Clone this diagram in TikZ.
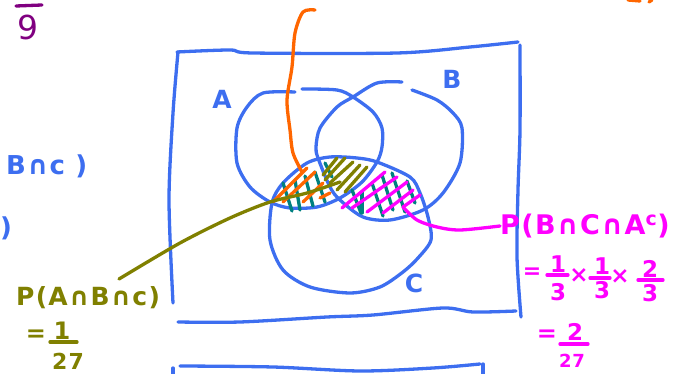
\documentclass[tikz,border=0pt]{standalone}
\usepackage{fontspec}
\setmainfont{DejaVu Sans}
\newfontfamily\handfont[LetterSpace=5]{DejaVu Sans}
\definecolor{penblue}{HTML}{3D6EF0}
\definecolor{penorange}{HTML}{FF6600}
\definecolor{penolive}{HTML}{808000}
\definecolor{penmagenta}{HTML}{FF00FF}
\definecolor{penteal}{HTML}{008080}
\definecolor{penpurple}{HTML}{800080}
\tikzset{
  pen/.style={line width=3.3pt,line cap=round,line join=round},
  word/.style={inner sep=0pt,font=\handfont\bfseries\fontsize{#1}{#1}\selectfont},
  word/.default=22
}
\begin{document}
\begin{tikzpicture}[x=1pt,y=-1pt]
  \useasboundingbox (0,0) rectangle (678,374);

  % frame
  \draw[pen,penblue] plot[smooth] coordinates {(177,52) (230,50) (253,53) (397,53) (470,47) (518,42)};
  \draw[pen,penblue] plot[smooth] coordinates {(178,52) (173,113) (169,200) (173,303)};
  \draw[pen,penblue] plot[smooth] coordinates {(520,45) (520,130) (518,190) (517,257) (521,317)};
  \draw[pen,penblue] plot[smooth] coordinates {(178,322) (240,322) (327,317) (373,315) (443,308) (473,312) (516,311)};
  \draw[pen,penblue] plot[smooth] coordinates {(180,366) (273,367) (360,371) (433,368) (480,364)};
  \draw[pen,penblue] (483,364) -- (483,374);
  \draw[pen,penblue] (173,368) -- (173,374);

  % circles
  \draw[pen,penblue] plot[smooth] coordinates {(295,92) (263,93) (247,107) (237,128) (237,163) (250,187) (270,202) (290,208) (317,207) (340,198) (362,182) (377,162) (382,147) (382,128) (373,112) (353,97) (337,90) (302,89)};
  \draw[pen,penblue] plot[smooth] coordinates {(402,82) (377,83) (353,97) (337,107) (320,128) (316,147) (318,158) (330,187) (340,200) (363,217) (390,220) (423,210) (443,193) (460,163) (462,128) (453,113) (437,100) (412,90)};
  \draw[pen,penblue] plot[smooth cycle] coordinates {(272,203) (283,183) (307,163) (330,157) (357,158) (377,162) (410,177) (420,193) (428,217) (431,240) (418,258) (403,272) (380,287) (350,293) (310,287) (283,270) (270,240)};

  % hatching
  \foreach \xa/\ya/\xb/\yb in {283/183/292/211,295/180/300/210,305/176/313/206,315/172/325/202,325/163/332/177,352/190/361/213,362/192/362/213,372/183/383/216,382/175/393/210,392/173/405/212,407/181/415/203}
    \draw[pen,penteal] (\xa,\ya) -- (\xb,\yb);
  \foreach \xa/\ya/\xb/\yb in {273/202/307/168,283/202/315/172,303/202/323/183,320/198/330/193}
    \draw[pen,penorange] (\xa,\ya) -- (\xb,\yb);
  \foreach \xa/\ya/\xb/\yb in {323/175/337/158,325/180/345/158,330/183/353/162,337/190/360/165,345/192/367/167}
    \draw[pen,penolive] (\xa,\ya) -- (\xb,\yb);
  \foreach \xa/\ya/\xb/\yb in {342/208/385/172,352/208/397/177,367/212/407/182,383/213/413/190,403/207/420/195}
    \draw[pen,penmagenta] (\xa,\ya) -- (\xb,\yb);

  % set names
  \node[word=25,text=penblue] (setA) at (222,99) {A};
  \node[word=25,text=penblue] (setB) at (452,79) {B};
  \node[word=25,text=penblue] (setC) at (414,283) {C};

  % left margin
  \draw[pen,penpurple] (16,6) -- (42,5);
  \node[word=33,text=penpurple] (nine) at (28,27) {\mdseries 9};
  \node[word=26,text=penblue,anchor=west] (leftB) at (6,166) {B∩c )};
  \node[word=26,text=penblue,anchor=west] (leftP) at (0,228) {)};

  % top right
  \draw[pen,penorange] (628,0) -- (640,1);
  \draw[pen,penorange] (652,0) -- (649,2);

  % olive label
  \node[word=25,text=penolive,anchor=west] (probABC) at (16,298) {P(A∩B∩c)};
  \node[word=24,text=penolive] (oliveEq) at (36,336) {=};
  \node[word=24,text=penolive] (oliveOne) at (62,331) {1};
  \node[word=22,text=penolive] (oliveDen) at (68,361) {27};
  \draw[pen,penolive] (50,342) -- (77,342);

  % magenta label
  \node[word=27,text=penmagenta,anchor=west] (probBCA) at (500,226) {P(B∩C∩A\textsuperscript{c})};
  \node[word=22,text=penmagenta] (magEq) at (532,273) {=};
  \node[word=23,text=penmagenta] (magOneA) at (558,264) {1};
  \node[word=23,text=penmagenta] (magThreeA) at (558,292) {3};
  \node[word=23,text=penmagenta] (magTimesA) at (579,276) {×};
  \node[word=23,text=penmagenta] (magOneB) at (602,266) {1};
  \node[word=23,text=penmagenta] (magThreeB) at (602,290) {3};
  \node[word=23,text=penmagenta] (magTimesB) at (620,277) {×};
  \node[word=23,text=penmagenta] (magTwoA) at (650,269) {2};
  \node[word=23,text=penmagenta] (magThreeC) at (650,293) {3};
  \draw[pen,penmagenta] (547,275) -- (568,275);
  \draw[pen,penmagenta] (590,278) -- (610,278);
  \draw[pen,penmagenta] (638,280) -- (663,280);
  \node[word=24,text=penmagenta] (magEqB) at (547,336) {=};
  \node[word=23,text=penmagenta] (magTwoB) at (575,332) {2};
  \draw[pen,penmagenta] (560,344) -- (588,344);
  \node[word=18,text=penmagenta] (magDen) at (572,361) {27};

  % leaders
  \coordinate (orangeStart) at (315,10);
  \coordinate (orangeEnd) at (302,172);
  \coordinate (oliveEnd) at (340,182);
  \coordinate (magentaEnd) at (403,207);
  \draw[pen,penorange] plot[smooth] coordinates {(orangeStart) (303,12) (295,33) (292,67) (287,100) (290,130) (293,153) (orangeEnd)};
  \draw[pen,penolive] plot[smooth] coordinates {(119,279) (180,243) (230,218) (270,202) (307,193) (oliveEnd)};
  \draw[pen,penmagenta] plot[smooth] coordinates {(magentaEnd) (417,220) (437,227) (460,230) (probBCA.west)};
\end{tikzpicture}
\end{document}
